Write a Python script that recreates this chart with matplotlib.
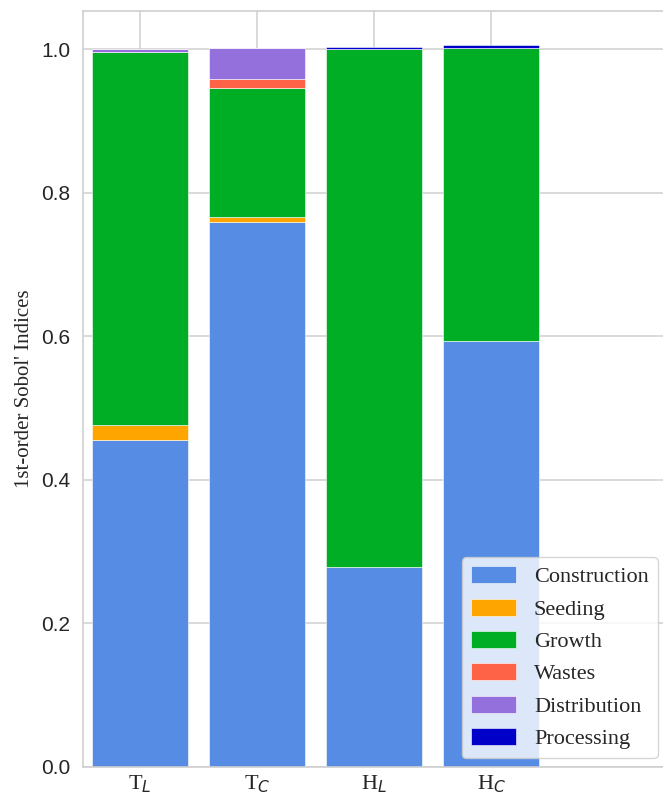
import matplotlib
matplotlib.use("Agg")
import matplotlib.pyplot as plt
import numpy as np

# Sobol' first-order indices per scenario, split by life-cycle stage
categories = ["T$_{L}$", "T$_{C}$", "H$_{L}$", "H$_{C}$"]
stages = ["Construction", "Seeding", "Growth", "Wastes", "Distribution", "Processing"]

construction = [0.455, 0.760, 0.278, 0.594]
seeding      = [0.022, 0.006, 0.001, 0.000]
growth       = [0.520, 0.180, 0.722, 0.408]
wastes       = [0.000, 0.013, 0.000, 0.000]
distribution = [0.003, 0.043, 0.000, 0.000]
processing   = [0.000, 0.000, 0.003, 0.004]

stage_values = [construction, seeding, growth, wastes, distribution, processing]
stage_colors = ["#578CE4", "#FFA500", "#00AE25", "#FF6347", "#9370DB", "#0000C8"]

yticks = [0.0, 0.2, 0.4, 0.6, 0.8, 1.0]

W, H = 663, 799
fig = plt.figure(figsize=(W / 100, H / 100), dpi=100)

left_px, right_px, top_px, bottom_px = 82.7, 675.0, 10.7, 766.7
ax = fig.add_axes([left_px / W, 1 - bottom_px / H,
                   (right_px - left_px) / W, (bottom_px - top_px) / H])

grid_col = "#cfcfcf"
ax.set_axisbelow(True)
ax.grid(True, color=grid_col, linewidth=1.1)
for sp in ax.spines.values():
    sp.set_color(grid_col)
    sp.set_linewidth(1.2)

x = np.arange(len(categories))
bottom = np.zeros(len(categories))
for name, vals, col in zip(stages, stage_values, stage_colors):
    vals = np.asarray(vals, dtype=float)
    ax.bar(x, vals, width=0.82, bottom=bottom, color=col, label=name,
           edgecolor="white", linewidth=0.4)
    bottom += vals

ax.set_xlim(-0.49, 4.57)
ax.set_ylim(0, 1.054)
ax.set_xticks(x)
ax.set_xticklabels(categories, family="Liberation Serif", fontsize=16)
ax.set_yticks(yticks)
ax.set_yticklabels([f"{v:.1f}" for v in yticks], family="Liberation Sans",
                   fontsize=15, color="#262626")
ax.tick_params(axis="both", length=0)
ax.tick_params(axis="y", pad=9)
ax.tick_params(axis="x", pad=5, colors="#262626")

ax.set_ylabel("1st-order Sobol' Indices", family="Liberation Serif",
              fontsize=15, color="#262626", labelpad=5)

leg = ax.legend(loc="upper left",
                bbox_to_anchor=(461.7 / W, 1 - 557.3 / H),
                bbox_transform=fig.transFigure, borderaxespad=0,
                prop={"family": "Liberation Serif", "size": 16},
                frameon=True, fancybox=True, framealpha=0.8,
                labelspacing=0.5, handleheight=0.8, handlelength=2.05)
leg.get_frame().set_edgecolor("#cccccc")
leg.get_frame().set_linewidth(1.0)
for t in leg.get_texts():
    t.set_color("#262626")

fig.savefig("out.png", dpi=100)
